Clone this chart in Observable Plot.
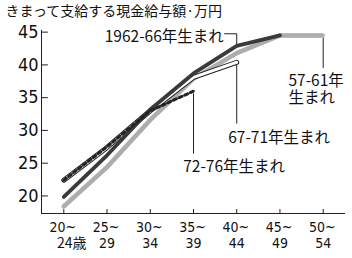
<!DOCTYPE html>
<html><head><meta charset="utf-8">
<script src="https://cdn.jsdelivr.net/npm/d3@7"></script>
<script src="https://cdn.jsdelivr.net/npm/@observablehq/plot@0.6"></script>
<style>
html,body{margin:0;padding:0;background:#fff;}
svg{display:block;}
</style>
</head><body>
<div id="chart"></div>
<script>
// --- data ---
const title = "きまって支給する現金給与額·万円";
const ageStart = ["20~","25~","30~","35~","40~","45~","50~"];
const ageEnd = ["24歳","29","34","39","44","49","54"];
const yTicks = [20, 25, 30, 35, 40, 45];
const s5761 = [18.4, 24.4, 31.6, 37.9, 41.8, 44.5, 44.5];
const s6266 = [19.85, 26.2, 33.2, 38.7, 42.9, 44.5];
const s6771 = [22.4, 27.4, 33.0, 38.1, 40.4];
const s7276 = [22.4, 27.5, 33.0, 36.0];
const labelText = ["1962-66年生まれ", "57-61年\n生まれ", "67-71年生まれ", "72-76年生まれ"];
const labelX = [3.70, 5.198, 3.803, 2.762];
const labelY = [44.3, 36.3, 29.0, 24.45];
const labelAnchor = ["end", "start", "start", "start"];
// leader lines (in data units): polylines
const leaders = [
  [[3.72, 44.75], [4, 44.75], [4, 43.25]],
  [[6, 44.2], [6, 39.6]],
  [[4, 40.0], [4, 31.1]],
  [[3, 35.6], [3, 26.5]]
];

// --- derived ---
const toRows = (arr) => arr.map((v, i) => ({i, v}));
const xMin = -0.516, xMax = 6.516, yMin = 17.32, yTop = 45.25;
const narrow = "'Liberation Sans Narrow','DejaVu Sans Condensed',sans-serif";
const cjk = "'Noto Sans CJK JP','Noto Sans',sans-serif";
const leaderRows = leaders.flatMap((pts, k) => pts.map(([x, y]) => ({k, x, y})));
const labels = labelText.map((t, k) => ({t, x: labelX[k], y: labelY[k], a: labelAnchor[k]}));
const endRows = ageEnd.map((t, i) => ({t, i}));

const chart = Plot.plot({
  width: 352,
  height: 258,
  marginLeft: 41,
  marginRight: 7,
  marginTop: 30,
  marginBottom: 45,
  x: {type: "linear", domain: [xMin, xMax], axis: null},
  y: {domain: [yMin, yTop], axis: null},
  style: {background: "#fff"},
  marks: [
    // title
    Plot.text([title], {frameAnchor: "top-left", dx: -36, dy: -19, textAnchor: "start", lineAnchor: "middle",
      fontSize: 14, fontFamily: cjk, fill: "#111", text: d => d}),
    // axes lines
    Plot.ruleX([xMin], {y1: yMin, y2: yTop, stroke: "#222", strokeWidth: 1}),
    Plot.ruleY([yMin], {x1: xMin, x2: xMax, stroke: "#222", strokeWidth: 1.2}),
    // y ticks inward
    Plot.ruleY(yTicks, {x1: xMin, x2: xMin + 0.16, stroke: "#222", strokeWidth: 1}),
    Plot.text(yTicks, {x: xMin, y: d => d, text: d => String(d), textAnchor: "end", dx: -3,
      fontSize: 18, fontFamily: narrow, fill: "#111"}),
    // x ticks inward
    Plot.ruleX(ageStart.map((_, i) => i), {y1: yMin, y2: yMin + 0.6, stroke: "#222", strokeWidth: 1}),
    Plot.text(ageStart, {x: (_, i) => i, y: () => yMin, text: d => d, dy: 14.5, dx: -1,
      fontSize: 14, fontFamily: narrow, fill: "#111"}),
    Plot.text(endRows.slice(0, 1), {x: "i", y: () => yMin, text: "t", dy: 30, dx: 8,
      fontSize: 14, fontFamily: "'Liberation Sans Narrow','Noto Sans CJK JP',sans-serif", fill: "#111"}),
    Plot.text(endRows.slice(1), {x: "i", y: () => yMin, text: "t", dy: 30,
      fontSize: 14, fontFamily: narrow, fill: "#111"}),
    // leaders
    Plot.line(leaderRows, {x: "x", y: "y", z: "k", stroke: "#222", strokeWidth: 1}),
    // 1957-61 gray textured
    Plot.line(toRows(s5761), {x: "i", y: "v", stroke: "#cacaca", strokeWidth: 4.5}),
    Plot.line(toRows(s5761), {x: "i", y: "v", stroke: "#9a9a9a", strokeWidth: 4.5, strokeDasharray: "1,1.6", strokeOpacity: 0.6}),
    // 1967-71 white outlined
    Plot.line(toRows(s6771), {x: "i", y: "v", stroke: "#222", strokeWidth: 5, strokeLinecap: "round"}),
    Plot.line(toRows(s6771), {x: "i", y: "v", stroke: "#fff", strokeWidth: 3, strokeLinecap: "round"}),
    // 1962-66 dark
    Plot.line(toRows(s6266), {x: "i", y: "v", stroke: "#3a3a3a", strokeWidth: 3.8}),
    // 1972-76 dashed
    Plot.line(toRows(s7276), {x: "i", y: "v", stroke: "#222", strokeWidth: 3, strokeDasharray: "3.2,3"}),
    // labels
    Plot.text(labels.filter(d => d.a === "end"), {x: "x", y: "y", text: "t", textAnchor: "end", lineAnchor: "middle",
      fontSize: 15.5, fontFamily: cjk, fill: "#111"}),
    Plot.text(labels.filter(d => d.a === "start"), {x: "x", y: "y", text: "t", textAnchor: "start", lineAnchor: "middle", lineHeight: 1.12,
      fontSize: 15.5, fontFamily: cjk, fill: "#111"})
  ]
});
document.getElementById("chart").append(chart);
</script>
</body></html>
